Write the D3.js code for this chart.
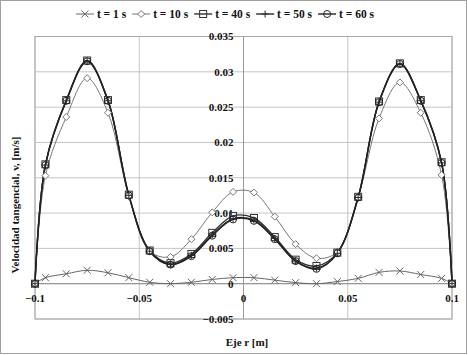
<!DOCTYPE html>
<html>
<head>
<meta charset="utf-8">
<script src="https://cdn.jsdelivr.net/npm/d3@7"></script>
<style>
  body { margin: 0; background: #fff; }
  text { font-family: "Liberation Serif", "DejaVu Serif", serif; font-weight: bold; fill: #111; }
</style>
</head>
<body>
<svg id="chart" width="468" height="355"></svg>
<script>
// radial position [m]
const radius = [-0.1, -0.095, -0.085, -0.075, -0.065, -0.055, -0.045, -0.035, -0.025, -0.015, -0.005,
                0.005, 0.015, 0.025, 0.035, 0.045, 0.055, 0.065, 0.075, 0.085, 0.095, 0.1];

// tangential velocity [m/s] per time
const vel_t1  = [0, 0.00085, 0.0014, 0.0019, 0.00155, 0.00085, 0.0002, 0, 0.0002, 0.0006, 0.00085,
                 0.00085, 0.0005, 0.00015, 0, 0.0003, 0.00075, 0.0016, 0.0018, 0.0013, 0.00075, 0];
const vel_t10 = [0, 0.0153, 0.0236, 0.0291, 0.0242, 0.0124, 0.0046, 0.0038, 0.0063, 0.0101, 0.0130,
                 0.0129, 0.0095, 0.0056, 0.0036, 0.0045, 0.0122, 0.0234, 0.0285, 0.0242, 0.0154, 0];
const vel_t40 = [0, 0.0169, 0.0260, 0.0316, 0.0260, 0.0126, 0.0047, 0.0029, 0.0042, 0.0072, 0.0096,
                 0.0093, 0.0066, 0.0034, 0.0025, 0.0044, 0.0123, 0.0258, 0.0312, 0.0260, 0.0172, 0];
const vel_t50 = [0, 0.0168, 0.0259, 0.0315, 0.0259, 0.0125, 0.0046, 0.0027, 0.0040, 0.0069, 0.0092,
                 0.0090, 0.0064, 0.0032, 0.0022, 0.0043, 0.0122, 0.0257, 0.0311, 0.0259, 0.0171, 0];
const vel_t60 = [0, 0.0168, 0.0259, 0.0315, 0.0259, 0.0125, 0.0046, 0.0027, 0.0039, 0.0068, 0.0091,
                 0.0089, 0.0063, 0.0032, 0.0021, 0.0043, 0.0122, 0.0257, 0.0311, 0.0259, 0.0171, 0];

const seriesNames = ["t = 1 s", "t = 10 s", "t = 40 s", "t = 50 s", "t = 60 s"];
const xTicks = [-0.1, -0.05, 0, 0.05, 0.1];
const yTicks = [-0.005, 0, 0.005, 0.01, 0.015, 0.02, 0.025, 0.03, 0.035];

const series = [
    {name: seriesNames[0], values: vel_t1,  marker: "cross",   color: "#666", width: 1},
    {name: seriesNames[1], values: vel_t10, marker: "diamond", color: "#777", width: 1},
    {name: seriesNames[2], values: vel_t40, marker: "square",  color: "#333", width: 1.4},
    {name: seriesNames[3], values: vel_t50, marker: "plus",    color: "#2a2a2a", width: 1.4},
    {name: seriesNames[4], values: vel_t60, marker: "circle",  color: "#222", width: 1.4}
];

const svg = d3.select("#chart");
const plot = {left: 35, right: 452, top: 36.5, bottom: 319};

const x = d3.scaleLinear().domain([-0.1, 0.1]).range([plot.left, plot.right]);
const y = d3.scaleLinear().domain([-0.005, 0.035]).range([plot.bottom, plot.top]);

// outer frame
svg.append("rect")
    .attr("x", 0.5).attr("y", 0.5).attr("width", 466).attr("height", 353)
    .attr("fill", "#fff").attr("stroke", "#a0a0a0");

// grid
const grid = svg.append("g");
grid.selectAll(".hgrid").data(yTicks).enter().append("line")
    .attr("x1", plot.left).attr("x2", plot.right)
    .attr("y1", d => y(d)).attr("y2", d => y(d))
    .attr("stroke", "#c4c4c4").attr("stroke-width", 1);
grid.selectAll(".vgrid").data(xTicks).enter().append("line")
    .attr("y1", plot.top).attr("y2", plot.bottom)
    .attr("x1", d => x(d)).attr("x2", d => x(d))
    .attr("stroke", "#c4c4c4").attr("stroke-width", 1);
svg.append("rect")
    .attr("x", plot.left).attr("y", plot.top)
    .attr("width", plot.right - plot.left).attr("height", plot.bottom - plot.top)
    .attr("fill", "none").attr("stroke", "#a8a8a8");

// axes crossing at zero
svg.append("line")
    .attr("x1", plot.left).attr("x2", plot.right)
    .attr("y1", y(0)).attr("y2", y(0))
    .attr("stroke", "#8a8a8a");
svg.append("line")
    .attr("x1", x(0)).attr("x2", x(0))
    .attr("y1", plot.top).attr("y2", plot.bottom)
    .attr("stroke", "#9a9a9a");

// tick labels
svg.append("g").selectAll("text").data(yTicks).enter().append("text")
    .attr("x", x(0) - 10).attr("y", d => y(d))
    .attr("dy", "0.35em")
    .attr("text-anchor", "end")
    .style("font-size", "11px")
    .text(d => d3.format("")(+d.toFixed(3)));
svg.append("g").selectAll("text").data(xTicks).enter().append("text")
    .attr("x", d => x(d)).attr("y", y(0) + 14)
    .attr("dy", "0.35em")
    .attr("text-anchor", "middle")
    .style("font-size", "11px")
    .text(d => d3.format("")(+d.toFixed(3)));

// axis titles
svg.append("text")
    .attr("x", 247).attr("y", 342).attr("dy", "0.35em")
    .attr("text-anchor", "middle")
    .style("font-size", "11px")
    .text("Eje r [m]");
svg.append("text")
    .attr("transform", "translate(15,205) rotate(-90)")
    .attr("dy", "0.35em")
    .attr("text-anchor", "middle")
    .style("font-size", "11px")
    .text("Velocidad tangencial, v, [m/s]");

// markers
function drawMarker(g, type, color) {
    let s = 3.5;
    if (type == "cross") {
        g.append("path").attr("d", `M${-s},${-s}L${s},${s}M${-s},${s}L${s},${-s}`)
            .attr("stroke", color).attr("fill", "none");
    } else if (type == "diamond") {
        g.append("path").attr("d", `M0,${-s}L${s},0L0,${s}L${-s},0Z`)
            .attr("stroke", color).attr("fill", "#fff");
    } else if (type == "square") {
        g.append("rect").attr("x", -s).attr("y", -s).attr("width", 2 * s).attr("height", 2 * s)
            .attr("stroke", color).attr("fill", "none");
    } else if (type == "plus") {
        g.append("path").attr("d", `M${-s},0L${s},0M0,${-s}L0,${s}`)
            .attr("stroke", color).attr("fill", "none");
    } else if (type == "circle") {
        g.append("circle").attr("r", s).attr("stroke", color).attr("fill", "none");
    }
}

const line = d3.line()
    .x((d, i) => x(radius[i]))
    .y(d => y(d))
    .curve(d3.curveCatmullRom.alpha(0.5));

const lines = svg.append("g");
series.forEach(function (s) {
    lines.append("path")
        .attr("d", line(s.values))
        .attr("fill", "none")
        .attr("stroke", s.color)
        .attr("stroke-width", s.width);
});
series.forEach(function (s) {
    let g = svg.append("g");
    s.values.forEach(function (v, i) {
        let m = g.append("g").attr("transform", "translate(" + x(radius[i]) + "," + y(v) + ")");
        drawMarker(m, s.marker, s.color);
    });
});

// legend
const legend = svg.append("g").attr("transform", "translate(0,14)");
let lx = 0;
series.forEach(function (s) {
    let it = legend.append("g");
    it.append("line").attr("x1", 0).attr("x2", 18).attr("y1", 0).attr("y2", 0)
        .attr("stroke", s.color).attr("stroke-width", s.width);
    let m = it.append("g").attr("transform", "translate(9,0)");
    drawMarker(m, s.marker, s.color);
    let t = it.append("text").attr("x", 21).attr("dy", "0.35em")
        .style("font-size", "11.5px").text(s.name);
    let w = 21 + t.node().getComputedTextLength();
    it.attr("transform", "translate(" + lx + ",0)");
    lx += w + 6;
});
legend.attr("transform", "translate(" + (225 - (lx - 6) / 2) + ",14)");
</script>
</body>
</html>
